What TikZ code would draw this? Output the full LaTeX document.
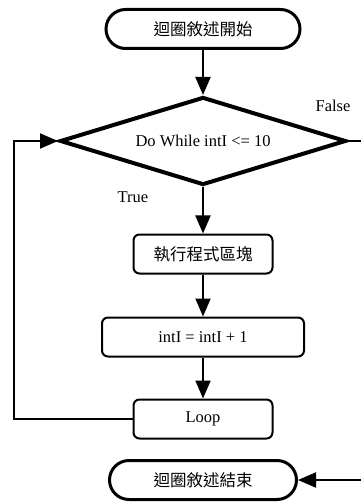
\documentclass[tikz,border=0pt]{standalone}
\usepackage{fontspec}
\setmainfont{Liberation Serif}
\newfontfamily\cjk{Noto Sans CJK TC}
\usetikzlibrary{shapes.geometric,shapes.misc,arrows.meta}

\begin{document}
\begin{tikzpicture}[x=1pt,y=-1pt,font=\fontsize{16.5}{18}\selectfont]
\tikzstyle{terminal}=[draw,rounded rectangle,line width=3pt,minimum width=194pt,minimum height=39pt,inner sep=0pt];
\tikzstyle{decision}=[draw,diamond,line width=4pt,aspect=3.25,minimum width=286pt,minimum height=88pt,inner sep=0pt];
\tikzstyle{process}=[draw,rectangle,rounded corners=6pt,line width=2pt,minimum width=139pt,minimum height=39pt,inner sep=0pt];
\tikzstyle{arrow}=[line width=2pt,-{Triangle[length=18pt,width=15pt]}];
\useasboundingbox (0,0) rectangle (360,502);
% flow
\node [terminal] (start) at (203,29) {\cjk 迴圈敘述開始};
\node [decision] (cond) at (203,141) {Do While intI <= 10};
\node [process] (body) at (203,254) {\cjk 執行程式區塊};
\node [process,minimum width=202pt] (step1) at (203,337) {intI = intI + 1};
\node [process] (loop) at (203,419) {Loop};
\node [terminal,minimum width=187pt] (stop) at (203,480) {\cjk 迴圈敘述結束};
\node (false) at (333,106) {False};
\node (true) at (133,197) {True};
\coordinate (left) at (14,280);
\coordinate (right) at (372,300);
\draw [arrow] (start) -- (cond);
\draw [arrow] (cond) -- (body);
\draw [arrow] (body) -- (step1);
\draw [arrow] (step1) -- (loop);
\draw [arrow] (loop.west) -| (left) |- (cond.west);
\draw [arrow] (cond.east) -| (right) |- (stop.east);
\end{tikzpicture}
\end{document}
